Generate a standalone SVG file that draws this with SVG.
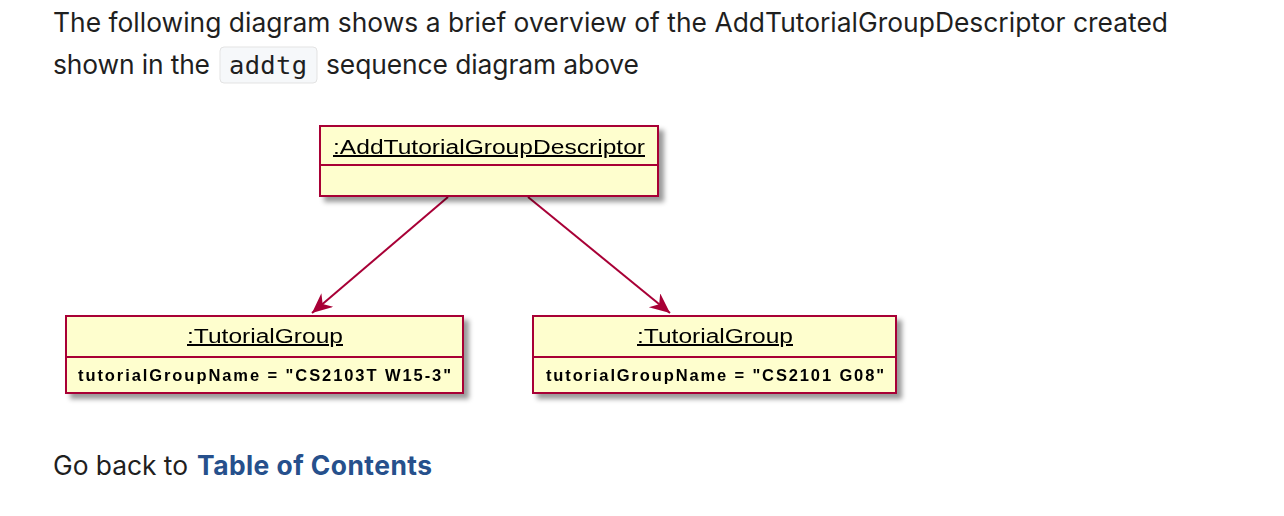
<svg xmlns="http://www.w3.org/2000/svg" width="1284" height="516" viewBox="0 0 1284 516">
<defs>
<filter id="sh" x="-10%" y="-10%" width="130%" height="150%">
<feGaussianBlur in="SourceAlpha" stdDeviation="2.5"/>
<feOffset dx="5" dy="5" result="b"/>
<feFlood flood-color="#000" flood-opacity="0.4"/>
<feComposite in2="b" operator="in"/>
<feMerge><feMergeNode/><feMergeNode in="SourceGraphic"/></feMerge>
</filter>
<marker id="ah" markerWidth="24" markerHeight="22" refX="20" refY="9" orient="auto" markerUnits="userSpaceOnUse">
<path d="M0,0 L20,9 L0,18 L6,9 Z" fill="#A80036"/>
</marker>
</defs>
<style>
.p{font-family:Inter,"Noto Sans","DejaVu Sans",sans-serif;font-size:26.4px;fill:#1f1f1f}
.lnk{font-weight:bold;fill:#26508c}
.box{fill:#FEFECE;stroke:#A80036;stroke-width:2}
.sep{stroke:#A80036;stroke-width:2}
.t{font-family:"Liberation Sans",Arial,sans-serif;font-size:20px;fill:#000;text-decoration:underline}
.a{font-family:"Liberation Sans",Arial,sans-serif;font-size:16.5px;font-weight:bold;fill:#000}
.ln{stroke:#A80036;stroke-width:2;fill:none}
</style>
<rect width="1284" height="516" fill="#fff"/>
<text class="p" x="53" y="32" textLength="1115">The following diagram shows a brief overview of the AddTutorialGroupDescriptor created</text>
<rect x="220" y="47" width="97" height="36" rx="4" fill="#f6f8fa" stroke="#e3e3e3" stroke-width="1"/>
<text class="p" x="53" y="74" textLength="157">shown in the</text>
<text x="229" y="74" font-family="'DejaVu Sans Mono',monospace" font-size="25.5" fill="#1f1f1f" textLength="78">addtg</text>
<text class="p" x="326" y="74" textLength="313">sequence diagram above</text>

<g id="connectors">
<line class="ln" x1="448" y1="197" x2="312" y2="313" marker-end="url(#ah)"/>
<line class="ln" x1="528" y1="197" x2="670" y2="313" marker-end="url(#ah)"/>
</g>

<g id="descriptor" filter="url(#sh)">
<rect class="box" x="320" y="126" width="338" height="70"/>
<line class="sep" x1="320" y1="165" x2="658" y2="165"/>
<text class="t" x="333" y="154" textLength="312" lengthAdjust="spacingAndGlyphs">:AddTutorialGroupDescriptor</text>
</g>

<g id="tg1" filter="url(#sh)">
<rect class="box" x="66" y="316" width="397" height="77"/>
<line class="sep" x1="66" y1="357" x2="463" y2="357"/>
<text class="t" x="187" y="343" textLength="156" lengthAdjust="spacingAndGlyphs">:TutorialGroup</text>
<text class="a" x="78" y="381" textLength="373">tutorialGroupName = "CS2103T W15-3"</text>
</g>

<g id="tg2" filter="url(#sh)">
<rect class="box" x="533" y="316" width="363" height="77"/>
<line class="sep" x1="533" y1="357" x2="896" y2="357"/>
<text class="t" x="637" y="343" textLength="156" lengthAdjust="spacingAndGlyphs">:TutorialGroup</text>
<text class="a" x="546" y="381" textLength="338">tutorialGroupName = "CS2101 G08"</text>
</g>

<text class="p" x="53" y="475" textLength="135">Go back to</text>
<text class="p lnk" x="197" y="475" textLength="235">Table of Contents</text>
</svg>
